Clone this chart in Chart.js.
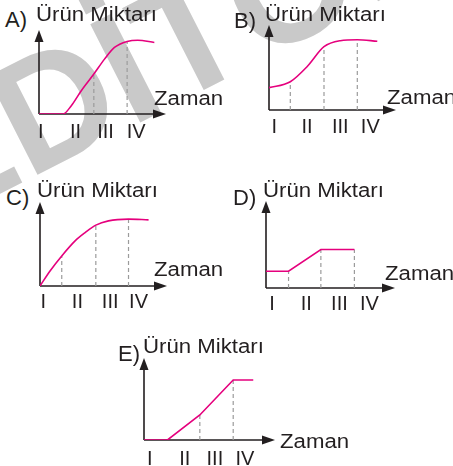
<!DOCTYPE html>
<html>
<head>
<meta charset="utf-8">
<script src="https://cdn.jsdelivr.net/npm/chart.js@4.4.0/dist/chart.umd.min.js"></script>
<style>
  html, body { margin: 0; padding: 0; background: #fff; }
  #wrap { position: relative; width: 453px; height: 466px; overflow: hidden; background: #fff; }
  canvas { position: absolute; }
  .wm { position: absolute; font: bold 160px "Liberation Sans", Arial, sans-serif; line-height: 160px;
        color: #c9c9c9; white-space: nowrap; transform-origin: 0 135.4px; transform: rotate(-27deg); }
  .t { position: absolute; font: 20px "Liberation Sans", Arial, sans-serif; line-height: 20px; color: #231f20;
       white-space: nowrap; transform-origin: 0 0; transform: scaleX(1.11); }
  .k { position: absolute; font: 22px "Liberation Sans", Arial, sans-serif; line-height: 22px; color: #231f20; white-space: nowrap; }
</style>
</head>
<body>
<div id="wrap">
  <div class="wm" style="left:-67.1px;top:92.6px">EDİTÖR</div>
</div>
<script>
// ---- Data (time along x, amount along y) ----
const romans = ['I', 'II', 'III', 'IV'];

// A
const aTime   = [0, 24, 32.4, 42.4, 55, 65.7, 75.7, 88.4, 99, 115.7];
const aAmount = [0, 0, 8.3, 23.3, 40, 55, 66.7, 72.7, 74, 71.7];
const aBounds = [24, 55, 88.4];
const aLabels = [1.7, 36.7, 66.7, 97.4];

// B
const bTime   = [0, 21.3, 38, 55, 71.3, 88.3, 108.3];
const bAmount = [22.3, 28.3, 43.3, 63.3, 69.3, 70.3, 68.7];
const bBounds = [21.3, 55, 88.3];
const bLabels = [5.3, 38, 71.3, 101.3];

// C
const cTime   = [0, 10, 21.7, 35, 45, 55.7, 68.3, 88.3, 108.3];
const cAmount = [0, 15, 30, 45, 53.3, 60.7, 65, 66.7, 66];
const cBounds = [21.7, 55.7, 88.3];
const cLabels = [3.3, 37.3, 70, 98.3];

// D
const dTime   = [0, 22.6, 55, 88.6];
const dAmount = [16.7, 16.7, 38.3, 38.3];
const dBounds = [22.6, 55, 88.6];
const dLabels = [6, 40.3, 73.6, 103.6];

// E
const eTime   = [0, 23.4, 55.7, 89, 109];
const eAmount = [0, 0, 25, 60, 60];
const eBounds = [23.4, 55.7, 89];
const eLabels = [5.7, 40.7, 70.7, 100.7];

// ---- Styles ----
const ink = '#231f20';
const pink = '#e5007d';
const dashGrey = '#9b9b9b';
const PAD = 10, BOTTOM = 36;

const wrap = document.getElementById('wrap');

function addText(cls, txt, left, base) {
  const d = document.createElement('div');
  d.className = cls;
  d.textContent = txt;
  const off = cls === 'k' ? 22 * 0.8465 : 20 * 0.8465;
  d.style.left = left + 'px';
  d.style.top = (base - off) + 'px';
  wrap.appendChild(d);
}

// axes with arrow heads + roman numerals
const axesPlugin = {
  id: 'axes',
  beforeDatasetsDraw(chart, args, opts) {
    const { ctx, chartArea: a } = chart;
    ctx.save();
    ctx.strokeStyle = ink; ctx.fillStyle = ink; ctx.lineWidth = 1.6;
    ctx.beginPath();
    ctx.moveTo(a.left, a.bottom); ctx.lineTo(a.left, a.top + 6);
    ctx.moveTo(a.left, a.bottom); ctx.lineTo(a.right - 6, a.bottom);
    ctx.stroke();
    ctx.beginPath();
    ctx.moveTo(a.left, a.top); ctx.lineTo(a.left - 4.5, a.top + 12); ctx.lineTo(a.left + 4.5, a.top + 12); ctx.closePath();
    ctx.fill();
    ctx.beginPath();
    ctx.moveTo(a.right, a.bottom); ctx.lineTo(a.right - 13, a.bottom - 4.5); ctx.lineTo(a.right - 13, a.bottom + 4.5); ctx.closePath();
    ctx.fill();
    ctx.restore();
  },
  afterDraw(chart, args, opts) {
    const { ctx, chartArea: a } = chart;
    const x = chart.scales.x;
    ctx.save();
    ctx.fillStyle = ink;
    ctx.font = '20px "Liberation Sans", Arial, sans-serif';
    ctx.textAlign = 'center';
    ctx.textBaseline = 'alphabetic';
    opts.pos.forEach((p, i) => ctx.fillText(romans[i], x.getPixelForValue(p), a.bottom + opts.gap));
    ctx.restore();
  }
};

function panel(p) {
  const c = document.createElement('canvas');
  const w = Math.round(p.xMax) + 2 * PAD, h = Math.round(p.yMax) + PAD + BOTTOM;
  c.width = w; c.height = h;
  c.style.left = (p.ox - PAD) + 'px';
  c.style.top = (p.oy - Math.round(p.yMax) - PAD) + 'px';
  wrap.appendChild(c);

  const pts = p.time.map((t, i) => ({ x: t, y: p.amount[i] }));
  const datasets = [{
    data: pts, borderColor: pink, borderWidth: 1.6, pointRadius: 0, fill: false,
    tension: p.smooth ? 0.4 : 0, cubicInterpolationMode: p.smooth ? 'monotone' : 'default'
  }];
  p.bounds.forEach(b => {
    const pt = pts.find(q => q.x === b);
    if (pt && pt.y > 0) {
      datasets.push({ data: [{ x: b, y: 0 }, { x: b, y: pt.y }], borderColor: dashGrey, borderWidth: 1.2,
        borderDash: [4, 3], pointRadius: 0, fill: false });
    }
  });

  new Chart(c, {
    type: 'line',
    data: { datasets },
    options: {
      responsive: false, animation: false, events: [],
      layout: { padding: { left: PAD, right: PAD, top: PAD, bottom: BOTTOM } },
      plugins: { legend: { display: false }, tooltip: { enabled: false }, axes: { pos: p.labels, gap: p.gap } },
      scales: {
        x: { type: 'linear', display: false, min: 0, max: p.xMax },
        y: { type: 'linear', display: false, min: 0, max: p.yMax }
      }
    },
    plugins: [axesPlugin]
  });
}

panel({ ox: 39.3, oy: 113.5, xMax: 127.4, yMax: 84.2, time: aTime, amount: aAmount, bounds: aBounds, labels: aLabels, smooth: true, gap: 23.5 });
panel({ ox: 268.7, oy: 110, xMax: 127, yMax: 85, time: bTime, amount: bAmount, bounds: bBounds, labels: bLabels, smooth: true, gap: 22.5 });
panel({ ox: 40, oy: 285.5, xMax: 126.7, yMax: 83.8, time: cTime, amount: cAmount, bounds: cBounds, labels: cLabels, smooth: true, gap: 22 });
panel({ ox: 265.7, oy: 288.3, xMax: 129.3, yMax: 86.6, time: dTime, amount: dAmount, bounds: dBounds, labels: dLabels, smooth: false, gap: 22 });
panel({ ox: 144.3, oy: 440, xMax: 130.7, yMax: 82, time: eTime, amount: eAmount, bounds: eBounds, labels: eLabels, smooth: false, gap: 24.5 });

// titles
addText('k', 'A)', 5, 27.3);
addText('t', 'Ürün Miktarı', 36, 20.7);
addText('t', 'Zaman', 154, 105);
addText('k', 'B)', 234, 28.5);
addText('t', 'Ürün Miktarı', 265, 20.7);
addText('t', 'Zaman', 387, 104);
addText('k', 'C)', 6, 206);
addText('t', 'Ürün Miktarı', 36.7, 197.3);
addText('t', 'Zaman', 154, 276);
addText('k', 'D)', 233, 206);
addText('t', 'Ürün Miktarı', 263.3, 196.7);
addText('t', 'Zaman', 385, 280);
addText('k', 'E)', 118, 362);
addText('t', 'Ürün Miktarı', 142.7, 353.3);
addText('t', 'Zaman', 280, 448.3);
</script>
</body>
</html>
